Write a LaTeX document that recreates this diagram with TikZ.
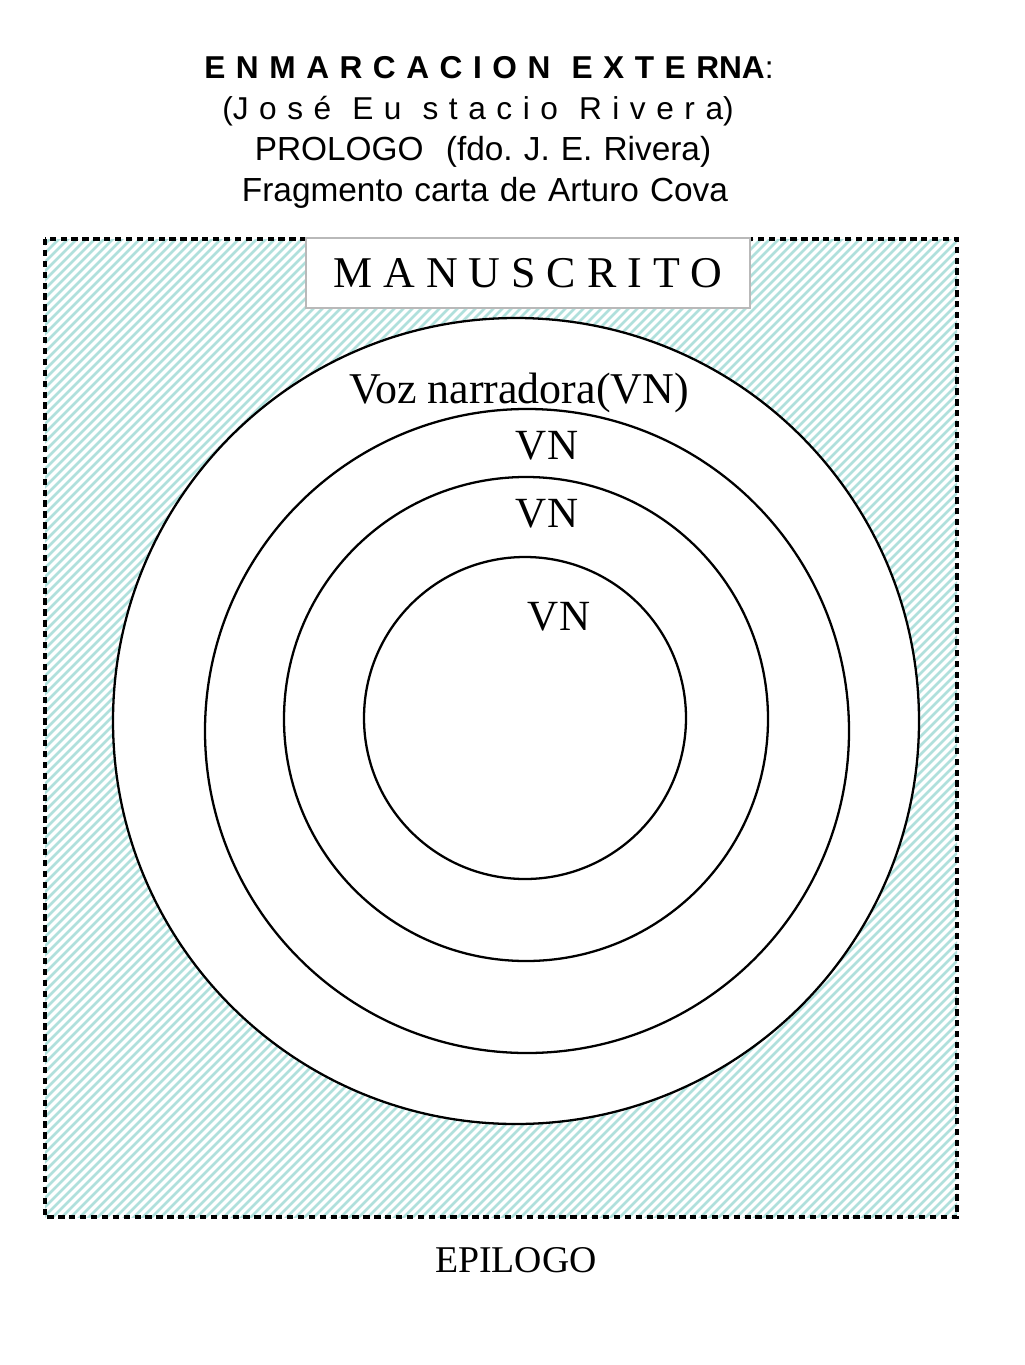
\documentclass[tikz,border=0pt]{standalone}
\usepackage{fontspec}
\setmainfont{Liberation Serif}
\newfontfamily\hdfont{Liberation Sans}
\newfontfamily\hdwide[WordSpace=1.2]{Liberation Sans}
\usetikzlibrary{positioning}
\definecolor{hatchteal}{RGB}{176,224,220}
\definecolor{boxgray}{RGB}{185,185,185}
\frenchspacing
\tikzset{
	ring/.style={draw=black, line width=1.3pt, fill=white},
	frameline/.style={draw=black, line width=2.2pt, dash pattern=on 3.6pt off 2.6pt},
	hatchline/.style={hatchteal, line width=1.5pt},
	headline/.style={anchor=base, inner sep=0pt},
	voz/.style={anchor=base, inner sep=0pt, font=\fontsize{25}{30}\selectfont},
}

\begin{document}
\begin{tikzpicture}[x=0.02cm, y=-0.02cm]
	\useasboundingbox (0,0) rectangle (1024,1365);
	% header
	\node[headline, font=\hdwide\fontsize{18}{22}\selectfont] (titulo) at (489,79) {\textbf{E N M A R C A C I O N\ \ E X T E RNA}:};
	\node[headline, font=\hdwide\fontsize{18}{22}\selectfont] (autor) at (478,120) {(J o s é\ \ E u\ \ s t a c i o\ \ R i v e r a)};
	\node[headline, font=\hdfont\fontsize{19}{23}\selectfont] (prologo) at (483,161) {PROLOGO\ \ (fdo. J. E. Rivera)};
	\node[headline, font=\hdfont\fontsize{19}{23}\selectfont] (carta) at (485,202) {Fragmento carta de Arturo Cova};
	% hatched frame
	\begin{scope}
		\clip (45,239) rectangle (957,1217);
		\foreach \x in {-940,-931,...,960}
			\draw[hatchline] (\x,1220) -- ++(985,-985);
	\end{scope}
	\draw[frameline] (45,239) rectangle (957,1217);
	% rings
	\draw[ring] (516,721) circle[radius=403];
	\draw[ring] (527,731) circle[radius=322];
	\draw[ring] (526,719) circle[radius=242];
	\draw[ring] (525,718) circle[radius=161];
	% manuscript label
	\node[draw=boxgray, line width=1.1pt, fill=white, minimum width=8.88cm, minimum height=1.4cm, inner sep=0pt,
		font=\fontsize{25}{30}\selectfont] (manuscrito) at (528,273) {M A N U S C R I T O};
	\node[voz] (vozouter) at (519,403) {Voz narradora(VN)};
	\node[voz, font=\fontsize{24.5}{29}\selectfont] (vnsecond) at (547,459) {VN};
	\node[voz, font=\fontsize{24.5}{29}\selectfont] (vnthird) at (547,527) {VN};
	\node[voz, font=\fontsize{24.5}{29}\selectfont] (vninner) at (559,630) {VN};
	\node[anchor=base, inner sep=0pt, font=\fontsize{21.5}{26}\selectfont] (epilogo) at (516,1272) {EPILOGO};
\end{tikzpicture}
\end{document}
